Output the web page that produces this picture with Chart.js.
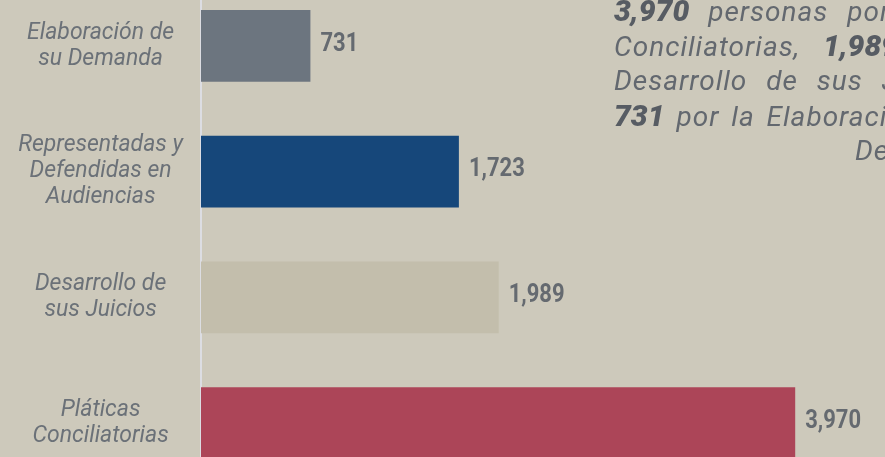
<!DOCTYPE html>
<html>
<head>
<meta charset="utf-8">
<script src="https://cdn.jsdelivr.net/npm/chart.js@4"></script>
<style>
  html, body { margin: 0; padding: 0; background: #cdc9bb; }
  body { width: 885px; height: 457px; overflow: hidden; position: relative; }
  #wrap { position: absolute; left: 0; top: -17px; width: 885px; height: 503px; }
  #note { position: absolute; left: 614px; top: -7px; width: 600px;
    font-family: Roboto, "Open Sans", sans-serif; font-style: italic; font-size: 28px;
    letter-spacing: 1px; line-height: 35px; color: #63686f; }
  #note b { font-weight: 900; color: #575c63; letter-spacing: 0; font-size: 30px; }
  #note div { height: 35px; white-space: nowrap; }
</style>
</head>
<body>
<div id="wrap"><canvas id="chart"></canvas></div>
<div id="note">
  <div style="word-spacing:11px"><b>3,970</b> personas por Pláticas</div>
  <div style="word-spacing:15px">Conciliatorias, <b>1,989</b> por el</div>
  <div style="word-spacing:11px">Desarrollo de sus Juicios y</div>
  <div style="word-spacing:4px"><b>731</b> por la Elaboración de su</div>
  <div style="padding-left:241px">Demanda.</div>
</div>
<script>
// ── Data ──────────────────────────────────────────────────────────────────────
const CATEGORIES = [
  ['Elaboración de', 'su Demanda'],
  ['Representadas y', 'Defendidas en', 'Audiencias'],
  ['Desarrollo de', 'sus Juicios'],
  ['Pláticas', 'Conciliatorias'],
];
const PERSONAS = [731, 1723, 1989, 3970];
const BAR_COLORS = ['#6c757f', '#16477a', '#c3beac', '#ac4558'];

// value labels to the right of each bar (squeezed Roboto to look condensed)
const valueLabels = {
  id: 'valueLabels',
  afterDatasetsDraw(chart) {
    const { ctx } = chart;
    const meta = chart.getDatasetMeta(0);
    ctx.font = 'bold 25px Roboto, sans-serif';
    ctx.fillStyle = '#656a70';
    ctx.textBaseline = 'middle';
    meta.data.forEach((bar, i) => {
      ctx.save();
      ctx.translate(bar.x + 10, bar.y - 1.5);
      ctx.scale(0.88, 1);
      ctx.fillText(PERSONAS[i].toLocaleString('en-US'), 0, 0);
      ctx.restore();
    });
  },
};

new Chart(document.getElementById('chart'), {
  type: 'bar',
  data: {
    labels: CATEGORIES,
    datasets: [{
      data: PERSONAS,
      backgroundColor: BAR_COLORS,
      categoryPercentage: 1,
      barPercentage: 0.572,
    }],
  },
  options: {
    indexAxis: 'y',
    responsive: true,
    maintainAspectRatio: false,
    animation: false,
    layout: { padding: 0 },
    plugins: { legend: { display: false }, tooltip: { enabled: false } },
    scales: {
      x: { display: false, min: 0, max: 4570 },
      y: {
        afterFit: (s) => { s.width = 201; s.paddingTop = 0; s.paddingBottom = 0; },
        grid: { display: false, drawTicks: false },
        border: { display: true, color: '#dcdde2', width: 2 },
        ticks: {
          crossAlign: 'center',
          padding: 18,
          color: '#6b7178',
          font: { family: 'Roboto, "Open Sans", sans-serif', style: 'italic', size: 23, lineHeight: '26px' },
        },
      },
    },
  },
  plugins: [valueLabels],
});
</script>
</body>
</html>
